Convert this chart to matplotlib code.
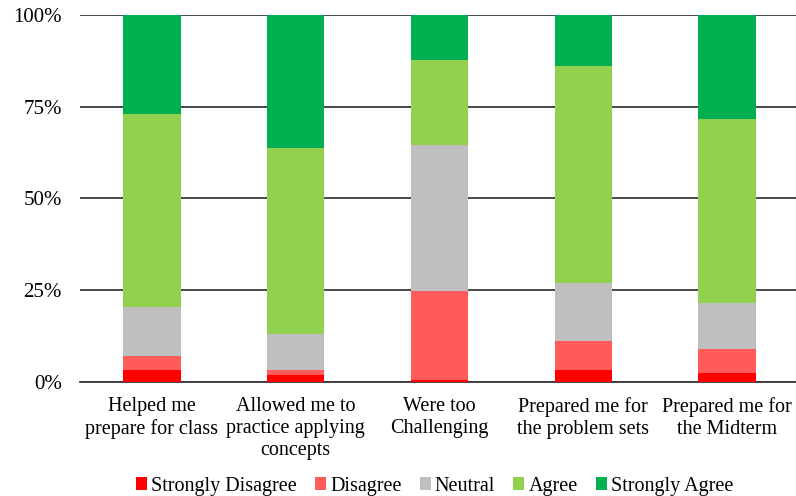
import numpy as np
import matplotlib
matplotlib.use('Agg')
import matplotlib.pyplot as plt
from matplotlib.ticker import PercentFormatter

plt.rcParams['font.family'] = ['Liberation Serif', 'DejaVu Serif']
plt.rcParams['font.size'] = 14.5

# Survey items and response shares (%)
items = ['Helped me\nprepare for class',
         'Allowed me to\npractice applying\nconcepts',
         'Were too\nChallenging',
         'Prepared me for\nthe problem sets',
         'Prepared me for\nthe Midterm']
responses = ['Strongly Disagree', 'Disagree', 'Neutral', 'Agree', 'Strongly Agree']

strongly_disagree = [3.3, 1.8, 0.6, 3.2, 2.5]
disagree = [3.8, 1.5, 24.3, 8.0, 6.5]
neutral = [13.3, 9.9, 39.7, 15.8, 12.5]
agree = [52.5, 50.6, 23.0, 59.0, 50.2]
strongly_agree = [27.1, 36.2, 12.4, 14.0, 28.3]

colors = ['#FF0000', '#FF5B5B', '#BFBFBF', '#92D050', '#00B050']

fig = plt.figure(figsize=(7.96, 4.96), dpi=100)
ax = fig.add_axes([0.1005, 0.2298, 0.9033, 0.74])

x = np.arange(len(items))
bottom = np.zeros(len(items))
for label, vals, c in zip(responses,
                          [strongly_disagree, disagree, neutral, agree, strongly_agree],
                          colors):
    ax.bar(x, vals, width=0.4, bottom=bottom, color=c, label=label, zorder=3)
    bottom += np.array(vals)

ax.set_xlim(-0.5, len(items) - 0.5)
ax.set_ylim(0, 100)
ax.set_yticks([0, 25, 50, 75, 100])
ax.yaxis.set_major_formatter(PercentFormatter(decimals=0))
ax.set_xticks(x)
ax.set_xticklabels(items, linespacing=1.22)
ax.tick_params(axis='y', length=0, pad=13, labelsize=15)
ax.tick_params(axis='x', length=0, pad=11)
ax.grid(axis='y', color='#3a3a3a', linewidth=1.3, zorder=0)

for side in ['top', 'right', 'left']:
    ax.spines[side].set_visible(False)
ax.spines['bottom'].set_color('#3a3a3a')
ax.spines['bottom'].set_linewidth(1.3)

fig.legend(loc='center', bbox_to_anchor=(0.546, 0.02), ncol=5, frameon=False,
           handlelength=0.55, handleheight=0.55, handletextpad=0.2,
           columnspacing=0.9)

fig.savefig('out.png', dpi=100)
